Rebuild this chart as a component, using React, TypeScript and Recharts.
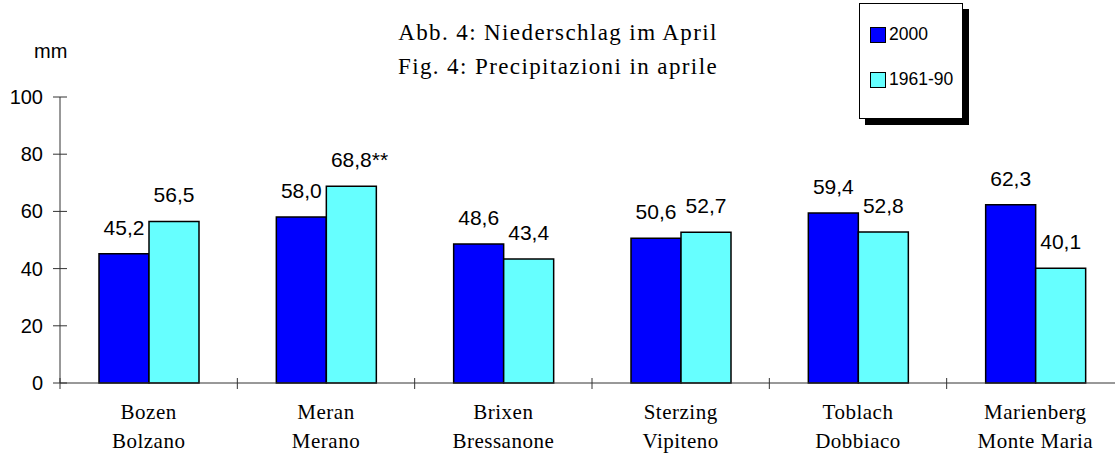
import React from 'react';
import { BarChart, Bar, XAxis, YAxis, LabelList } from 'recharts';

const stationsDe = ['Bozen', 'Meran', 'Brixen', 'Sterzing', 'Toblach', 'Marienberg'];
const stationsIt = ['Bolzano', 'Merano', 'Bressanone', 'Vipiteno', 'Dobbiaco', 'Monte Maria'];
const values2000 = [45.2, 58.0, 48.6, 50.6, 59.4, 62.3];
const values6190 = [56.5, 68.8, 43.4, 52.7, 52.8, 40.1];
const labels2000 = ['45,2', '58,0', '48,6', '50,6', '59,4', '62,3'];
const labels6190 = ['56,5', '68,8**', '43,4', '52,7', '52,8', '40,1'];
const yTicks = [0, 20, 40, 60, 80, 100];
const seriesNames = ['2000', '1961-90'];
const colors = ['#0000FF', '#66FFFF'];

const data = stationsDe.map((de, i) => ({
  de,
  it: stationsIt[i],
  v2000: values2000[i],
  v6190: values6190[i],
  l2000: labels2000[i],
  l6190: labels6190[i],
}));

const CHART_W = 1124;
const CHART_H = 457;
const MARGIN = { top: 97, right: 0, bottom: 0, left: 0 };
const Y_W = 60;
const X_H = 74;
const BAND = (CHART_W - MARGIN.left - MARGIN.right - Y_W) / stationsDe.length;
const LABEL_FS = 21;
const LABEL_OFFSET = 19;

const sans = '"Liberation Sans", Arial, sans-serif';
const serif = '"Liberation Serif", "Times New Roman", serif';

// approximate Arial advance widths (em) for digits and comma
const textWidth = (s: string, fs: number) =>
  s.split('').reduce((w, c) => w + (c === ',' ? 0.278 : 0.556) * fs, 0);

const ValueLabel = (props: any) => {
  const { x, y, width, value } = props;
  const str = String(value);
  const m = str.match(/^([0-9,]+)(.*)$/);
  const num = m ? m[1] : str;
  const suffix = m ? m[2] : '';
  const cx = x + width / 2;
  const ty = y - LABEL_OFFSET;
  return (
    <g>
      <text x={cx} y={ty} textAnchor="middle" fontFamily={sans} fontSize={LABEL_FS} fill="#000">
        {num}
      </text>
      {suffix ? (
        <text x={cx + textWidth(num, LABEL_FS) / 2} y={ty} textAnchor="start" fontFamily={sans} fontSize={LABEL_FS} fill="#000">
          {suffix}
        </text>
      ) : null}
    </g>
  );
};

const XTick = (props: any) => {
  const { x, y, payload, index } = props;
  const d = data[index] || data.find((r) => r.de === payload.value);
  return (
    <g>
      <line x1={x - BAND / 2} x2={x - BAND / 2} y1={y - 5} y2={y + 6} stroke="#333" strokeWidth={1} />
      <text x={x} y={y + 36} textAnchor="middle" fontFamily={serif} fontSize={21} letterSpacing={0.5} fill="#000">
        {payload.value}
      </text>
      <text x={x} y={y + 65} textAnchor="middle" fontFamily={serif} fontSize={21} letterSpacing={0.5} fill="#000">
        {d ? d.it : ''}
      </text>
    </g>
  );
};

const YTick = (props: any) => {
  const { x, y, payload } = props;
  return (
    <g>
      <line x1={x - 7} x2={x + 7} y1={y} y2={y} stroke="#333" strokeWidth={1} />
      <text x={x - 17} y={y + 7} textAnchor="end" fontFamily={sans} fontSize={20} fill="#000">
        {payload.value}
      </text>
    </g>
  );
};

export default function App() {
  return (
    <div
      style={{
        position: 'absolute',
        left: 0,
        top: 0,
        width: 1115,
        height: 457,
        overflow: 'hidden',
        background: '#fff',
      }}
    >
      <BarChart
        width={CHART_W}
        height={CHART_H}
        data={data}
        margin={MARGIN}
        barGap={0}
        barSize={50}
      >
        <XAxis
          dataKey="de"
          height={X_H}
          tickLine={false}
          tickSize={0}
          tickMargin={0}
          axisLine={{ stroke: '#333', strokeWidth: 1 }}
          tick={<XTick />}
          interval={0}
        />
        <YAxis
          width={Y_W}
          domain={[0, 100]}
          ticks={yTicks}
          tickLine={false}
          tickSize={0}
          tickMargin={0}
          axisLine={{ stroke: '#333', strokeWidth: 1 }}
          tick={<YTick />}
          interval={0}
        />
        <Bar dataKey="v2000" name={seriesNames[0]} fill={colors[0]} stroke="#000" strokeWidth={1.5} isAnimationActive={false}>
          <LabelList dataKey="l2000" content={<ValueLabel />} />
        </Bar>
        <Bar dataKey="v6190" name={seriesNames[1]} fill={colors[1]} stroke="#000" strokeWidth={1.5} isAnimationActive={false}>
          <LabelList dataKey="l6190" content={<ValueLabel />} />
        </Bar>
      </BarChart>

      <div
        style={{
          position: 'absolute',
          left: 34,
          top: 40,
          fontFamily: sans,
          fontSize: 20,
          lineHeight: 'normal',
          color: '#000',
        }}
      >
        mm
      </div>

      <div
        style={{
          position: 'absolute',
          left: 358,
          top: 16,
          width: 400,
          textAlign: 'center',
          fontFamily: serif,
          fontSize: 23,
          lineHeight: '34px',
          color: '#000',
          letterSpacing: 1.4,
        }}
      >
        <div>Abb. 4: Niederschlag im April</div>
        <div>Fig. 4: Precipitazioni in aprile</div>
      </div>

      <div
        style={{
          position: 'absolute',
          left: 859,
          top: 3,
          width: 102,
          height: 114,
          border: '1px solid #000',
          boxShadow: '6px 6px 0 #000',
          background: '#fff',
          fontFamily: sans,
          fontSize: 17.5,
          color: '#000',
        }}
      >
        {seriesNames.map((name, i) => (
          <div
            key={name}
            style={{
              position: 'absolute',
              left: 10,
              top: 20 + i * 45,
              display: 'flex',
              alignItems: 'center',
            }}
          >
            <div
              style={{
                width: 14,
                height: 14,
                background: colors[i],
                border: '1.5px solid #000',
                marginRight: 3,
              }}
            />
            <span>{name}</span>
          </div>
        ))}
      </div>
    </div>
  );
}
